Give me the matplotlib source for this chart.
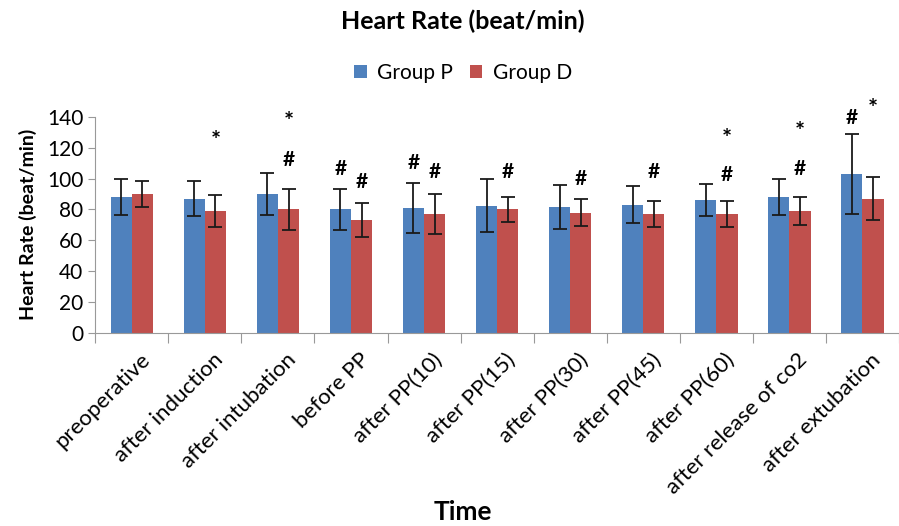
import numpy as np
import matplotlib
matplotlib.use("Agg")
import matplotlib.pyplot as plt
import matplotlib.transforms as mtransforms

plt.rcParams['font.family'] = ['Lato', 'DejaVu Sans']

categories = ['preoperative', 'after induction', 'after intubation', 'before PP',
              'after PP(10)', 'after PP(15)', 'after PP(30)', 'after PP(45)',
              'after PP(60)', 'after release of co2', 'after extubation']
group_p = [88, 87, 90, 80, 81, 82.5, 81.5, 83, 86, 88, 103]
group_p_err = [11.5, 11.5, 13.5, 13.5, 16, 17, 14, 12, 10.5, 11.5, 26]
group_d = [90, 79, 80, 73, 77, 80, 78, 77, 77, 79, 87]
group_d_err = [8.5, 10.5, 13.5, 11, 13, 8, 8.5, 8.5, 8.5, 9, 14]

# significance marks: (category index, series, label, value position)
marks = [
    (1, 'D', '*', 124),
    (2, 'D', '#', 112), (2, 'D', '*', 136),
    (3, 'P', '#', 106), (3, 'D', '#', 98),
    (4, 'P', '#', 110), (4, 'D', '#', 104),
    (5, 'D', '#', 104),
    (6, 'D', '#', 100),
    (7, 'D', '#', 104),
    (8, 'D', '#', 102), (8, 'D', '*', 125),
    (9, 'D', '#', 106), (9, 'D', '*', 130),
    (10, 'P', '#', 139), (10, 'D', '*', 145),
]

blue = '#4F81BD'
red = '#C0504D'

fig = plt.figure(figsize=(8.99, 5.26), dpi=100)
ax = fig.add_axes([0.106, 0.367, 0.894, 0.411])

x = np.arange(len(categories))
w = 0.29
ax.bar(x - w / 2, group_p, w, color=blue, label='Group P',
       yerr=group_p_err, error_kw=dict(ecolor='#1a1a1a', elinewidth=1.3, capsize=5, capthick=1.3))
ax.bar(x + w / 2, group_d, w, color=red, label='Group D',
       yerr=group_d_err, error_kw=dict(ecolor='#1a1a1a', elinewidth=1.3, capsize=5, capthick=1.3))

for i, s, txt, yv in marks:
    xx = x[i] - w / 2 if s == 'P' else x[i] + w / 2
    if txt == '*':
        ax.text(xx, yv, txt, ha='center', va='center', fontsize=17, fontweight='bold')
    else:
        ax.text(xx, yv, txt, ha='center', va='center', fontsize=15, fontweight='bold')

ax.set_xlim(-0.5, len(categories) - 0.5)
ax.set_ylim(0, 140)
ax.set_yticks(range(0, 141, 20))
ax.tick_params(axis='y', labelsize=15, length=5, color='#999999')
ax.set_xticks(np.arange(len(categories) + 1) - 0.5)
ax.set_xticklabels([])
ax.set_xticks(x, minor=True)
ax.set_xticklabels(categories, minor=True, rotation=45, ha='right', rotation_mode='anchor',
                   fontsize=16)
ax.tick_params(axis='x', which='major', length=7, color='#999999')
ax.tick_params(axis='x', which='minor', length=0, pad=12)
shift = mtransforms.ScaledTranslation(8 / 100, 0, fig.dpi_scale_trans)
for lbl in ax.get_xticklabels(minor=True):
    lbl.set_transform(lbl.get_transform() + shift)

for side in ['top', 'right']:
    ax.spines[side].set_visible(False)
ax.spines['left'].set_color('#999999')
ax.spines['bottom'].set_color('#999999')

ax.set_ylabel('Heart Rate (beat/min)', fontsize=14, fontweight='bold', labelpad=7)
fig.text(0.515, 0.003, 'Time', ha='center', va='bottom', fontsize=19, fontweight='bold')
fig.text(0.515, 0.96, 'Heart Rate (beat/min)', ha='center', va='center', fontsize=18, fontweight='bold')

fig.legend(loc='center', bbox_to_anchor=(0.515, 0.862), ncol=2, frameon=False, fontsize=15,
           handlelength=0.6, handleheight=0.6, handletextpad=0.5, columnspacing=0.8)

fig.savefig('out.png', dpi=100)
